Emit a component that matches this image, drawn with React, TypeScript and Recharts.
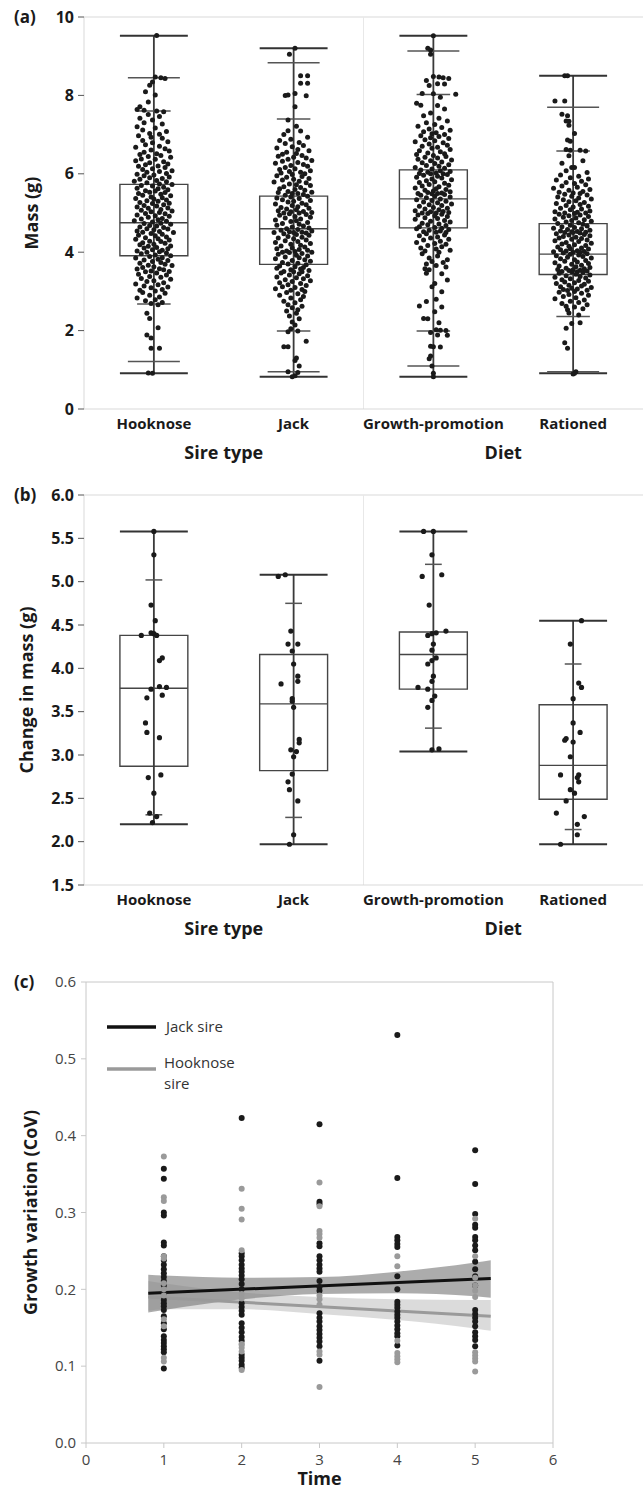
import React from 'react';
import {
  Area,
  ComposedChart,
  Legend,
  Line,
  ReferenceArea,
  ReferenceLine,
  Scatter,
  XAxis,
  YAxis,
} from 'recharts';

const FONT = "'Open Sans', sans-serif";
const INK = '#1a1a1a';
const FRAME = '#d9d9d9';

const CATEGORIES = ['Hooknose', 'Jack', 'Growth-promotion', 'Rationed'];
const GROUPS = ['Sire type', 'Diet'];
const CATEGORY_TICKS = [0.5, 1.5, 2.5, 3.5];
const MASS_TICKS = [0, 2, 4, 6, 8, 10];
const CHANGE_TICKS = [1.5, 2, 2.5, 3, 3.5, 4, 4.5, 5, 5.5, 6];
const COV_TICKS = [0, 0.1, 0.2, 0.3, 0.4, 0.5, 0.6];
const TIME_TICKS = [0, 1, 2, 3, 4, 5, 6];

// (a) mass box stats, one value per category
const MASS_MIN = [0.91, 0.82, 0.82, 0.91];
const MASS_P2 = [1.21, 0.95, 1.1, 0.95];
const MASS_P10 = [2.68, 1.99, 1.99, 2.36];
const MASS_Q1 = [3.91, 3.69, 4.62, 3.43];
const MASS_MEDIAN = [4.75, 4.6, 5.36, 3.95];
const MASS_Q3 = [5.73, 5.43, 6.1, 4.73];
const MASS_P90 = [7.6, 7.4, 8.02, 6.58];
const MASS_P98 = [8.45, 8.83, 9.13, 7.7];
const MASS_MAX = [9.52, 9.2, 9.52, 8.5];

// (b) change in mass box stats
const CHANGE_MIN = [2.2, 1.97, 3.04, 1.97];
const CHANGE_P5 = [2.31, 2.28, 3.31, 2.14];
const CHANGE_Q1 = [2.87, 2.82, 3.76, 2.49];
const CHANGE_MEDIAN = [3.77, 3.59, 4.16, 2.88];
const CHANGE_Q3 = [4.38, 4.16, 4.42, 3.58];
const CHANGE_P95 = [5.02, 4.75, 5.2, 4.05];
const CHANGE_MAX = [5.58, 5.08, 5.58, 4.55];

// points: [mass, horizontal jitter in hundredths of a category]
const HOOKNOSE_MASS = [
  [9.53, 2], [8.47, 1], [8.45, 5], [8.43, 8], [8.34, -1], [8.26, -3], [8.09, -6], [8.01, 1], [7.83, -4], [7.71, -10],
  [7.64, -12], [7.62, -7], [7.6, 2], [7.58, 7], [7.51, -4], [7.46, 4], [7.42, -10], [7.37, -1], [7.3, -7], [7.27, 6],
  [7.2, -12], [7.17, 1], [7.12, -8], [7.08, 9], [7.03, -3], [7.01, 4], [6.97, -11], [6.93, -2], [6.91, 6], [6.85, -8],
  [6.82, 10], [6.79, -1], [6.74, -6], [6.7, 4], [6.68, -13], [6.64, 8], [6.61, -2], [6.58, 11], [6.55, -7], [6.51, 2],
  [6.49, -10], [6.47, 5], [6.44, -4], [6.42, 12], [6.38, -9], [6.37, 1], [6.33, -13], [6.31, 7], [6.28, -3], [6.25, 10],
  [6.23, -6], [6.2, 3], [6.19, -11], [6.16, 8], [6.13, -1], [6.11, -8], [6.08, 13], [6.06, 4], [6.04, -5], [6.01, 9],
  [5.99, -12], [5.97, 0], [5.95, -7], [5.92, 11], [5.9, -3], [5.88, 6], [5.86, -10], [5.83, 2], [5.81, -14], [5.8, 9],
  [5.77, -5], [5.74, 4], [5.73, 13], [5.7, -9], [5.69, -1], [5.66, 7], [5.63, -12], [5.62, 3], [5.59, 10], [5.57, -6],
  [5.56, 1], [5.53, -3], [5.52, 8], [5.5, -11], [5.48, 5], [5.45, -8], [5.44, 12], [5.41, -2], [5.39, 6], [5.37, -13],
  [5.36, 0], [5.33, 9], [5.31, -5], [5.3, 3], [5.27, -10], [5.25, 11], [5.24, -1], [5.21, 7], [5.19, -7], [5.18, 2],
  [5.15, -12], [5.13, 10], [5.12, -4], [5.09, 5], [5.07, -9], [5.05, 13], [5.03, -2], [5.01, 4], [4.99, -6], [4.98, 8],
  [4.95, -12], [4.93, 1], [4.92, 11], [4.89, -4], [4.86, 6], [4.85, -9], [4.83, 3], [4.8, -14], [4.79, 9], [4.77, -1],
  [4.74, 5], [4.73, -7], [4.71, 12], [4.68, -3], [4.67, 2], [4.64, -10], [4.63, 7], [4.6, -5], [4.59, 10], [4.57, 0],
  [4.54, -12], [4.53, 4], [4.51, -8], [4.5, 14], [4.48, -2], [4.46, 6], [4.43, -11], [4.42, 1], [4.39, 9], [4.37, -6],
  [4.34, 3], [4.33, -13], [4.31, 11], [4.28, -3], [4.27, 5], [4.24, -8], [4.23, 8], [4.2, 0], [4.19, -10], [4.16, 12],
  [4.15, -4], [4.12, 2], [4.11, -7], [4.09, 10], [4.06, -1], [4.05, 6], [4.03, -12], [4.01, 4], [4.0, -5], [3.98, 9],
  [3.96, -9], [3.93, 1], [3.91, 12], [3.89, -3], [3.86, 6], [3.85, -13], [3.82, 3], [3.8, -7], [3.79, 10], [3.76, -1],
  [3.74, 5], [3.72, -10], [3.69, 8], [3.67, -4], [3.66, 13], [3.63, 0], [3.61, -8], [3.58, 4], [3.57, -12], [3.55, 7],
  [3.52, -2], [3.51, 11], [3.5, -6], [3.47, 2], [3.44, -11], [3.42, 9], [3.38, -3], [3.36, 5], [3.33, -9], [3.31, 12],
  [3.27, 0], [3.25, -5], [3.22, 7], [3.19, -13], [3.17, 3], [3.14, -7], [3.11, 10], [3.09, -2], [3.05, 6], [3.03, -10],
  [3.01, 1], [2.97, -8], [2.95, 8], [2.9, -3], [2.86, 4], [2.83, -12], [2.79, 1], [2.76, -6], [2.72, 6], [2.69, -2],
  [2.66, 3], [2.44, -5], [2.31, -3], [2.07, 3], [1.89, -5], [1.81, -2], [1.55, -2], [1.55, 4], [0.92, -4], [0.91, -1],
];

const JACK_MASS = [
  [9.2, 1], [9.05, -3], [8.5, 5], [8.5, 10], [8.31, 5], [8.31, 10], [8.05, 1], [8.01, -4], [8.0, -6], [7.99, 9],
  [7.71, 1], [7.37, -4], [7.21, 2], [7.1, -4], [7.09, 5], [7.0, -7], [6.93, 10], [6.88, -2], [6.85, -10], [6.8, 4],
  [6.77, -6], [6.72, 7], [6.69, -1], [6.66, -12], [6.62, 3], [6.59, 11], [6.55, -5], [6.52, 2], [6.5, -8], [6.47, 6],
  [6.45, -11], [6.42, 0], [6.4, 9], [6.37, -4], [6.34, 13], [6.32, -8], [6.29, 3], [6.27, -13], [6.24, 7], [6.21, -2],
  [6.19, 10], [6.16, -6], [6.13, 1], [6.11, -10], [6.08, 12], [6.06, -3], [6.04, 5], [6.02, -9], [6.0, 8], [5.98, -1],
  [5.95, -12], [5.93, 6], [5.91, -5], [5.88, 11], [5.86, 0], [5.84, -8], [5.81, 4], [5.79, -14], [5.77, 9], [5.74, -3],
  [5.72, 2], [5.7, 12], [5.67, -7], [5.65, 5], [5.62, -10], [5.6, 1], [5.58, 8], [5.55, -4], [5.53, 13], [5.52, -11],
  [5.5, 3], [5.5, -1], [5.47, 7], [5.45, -6], [5.43, 10], [5.41, -2], [5.38, -12], [5.37, 4], [5.34, -8], [5.32, 12],
  [5.3, 0], [5.28, -4], [5.25, 6], [5.23, -13], [5.21, 9], [5.19, -1], [5.16, 3], [5.14, -9], [5.12, 11], [5.1, -5],
  [5.08, 2], [5.06, -11], [5.04, 7], [5.03, -2], [5.01, 13], [5.0, -7], [5.0, 4], [4.98, -3], [4.96, 9], [4.94, -10],
  [4.91, 1], [4.89, 12], [4.87, -6], [4.85, 5], [4.82, -13], [4.8, 2], [4.78, -2], [4.76, 10], [4.73, -8], [4.71, 4],
  [4.69, -12], [4.67, 7], [4.64, -1], [4.62, 11], [4.6, -5], [4.58, 3], [4.56, -9], [4.54, 13], [4.52, -3], [4.51, 6],
  [4.5, -14], [4.5, 0], [4.49, 9], [4.47, -7], [4.45, 2], [4.43, 11], [4.4, -4], [4.38, 6], [4.36, -11], [4.34, 0],
  [4.31, 9], [4.29, -6], [4.27, 3], [4.25, -13], [4.22, 12], [4.2, -2], [4.18, 5], [4.16, -9], [4.13, 8], [4.11, -1],
  [4.09, -12], [4.07, 4], [4.05, 10], [4.03, -5], [4.02, 1], [4.0, -8], [4.0, 13], [3.99, -3], [3.97, 6], [3.95, -11],
  [3.92, 2], [3.9, 10], [3.88, -6], [3.86, 4], [3.83, -13], [3.81, 8], [3.79, -1], [3.77, 12], [3.74, -8], [3.72, 3],
  [3.7, -4], [3.68, 9], [3.65, -10], [3.63, 1], [3.61, 7], [3.59, -12], [3.57, 5], [3.55, -2], [3.53, 11], [3.51, -7],
  [3.5, 0], [3.5, 6], [3.47, -9], [3.45, 4], [3.42, -3], [3.4, 10], [3.37, -12], [3.35, 2], [3.32, 7], [3.3, -6],
  [3.27, 12], [3.25, -1], [3.22, -10], [3.2, 5], [3.17, -4], [3.15, 9], [3.12, -8], [3.1, 1], [3.07, -13], [3.05, 6],
  [3.03, -2], [3.0, 8], [2.97, -5], [2.94, 3], [2.9, -10], [2.87, 7], [2.83, -2], [2.79, 5], [2.75, -7], [2.71, 1],
  [2.66, -4], [2.62, 6], [2.58, -1], [2.53, 3], [2.5, -5], [2.44, 2], [2.37, -3], [2.3, 4], [2.22, -1], [2.14, 1],
  [2.05, -2], [1.99, 3], [1.97, -4], [1.73, 9], [1.59, -7], [1.59, -4], [1.3, 2], [1.24, 1], [1.1, 4], [0.95, -4],
  [0.93, 3], [0.85, 1], [0.82, -1],
];

const GROWTH_MASS = [
  [9.52, 0], [9.2, -4], [9.16, -2], [9.05, -2], [8.48, 0], [8.47, 4], [8.45, 7], [8.43, 11], [8.38, -5], [8.3, 3],
  [8.29, 8], [8.25, -3], [8.05, -8], [8.04, 0], [8.03, 16], [7.95, 5], [7.8, -12], [7.75, -9], [7.74, 3], [7.65, 8],
  [7.55, -2], [7.48, -7], [7.42, 4], [7.35, 10], [7.3, -5], [7.26, 1], [7.21, -11], [7.18, 6], [7.14, -3], [7.11, 12],
  [7.07, -7], [7.05, 2], [7.02, -1], [7.0, 8], [6.97, -9], [6.95, 4], [6.92, -2], [6.9, 11], [6.87, -6], [6.84, 1],
  [6.82, -13], [6.79, 7], [6.76, -3], [6.73, 10], [6.7, -8], [6.68, 3], [6.65, -1], [6.62, 12], [6.59, -10], [6.56, 5],
  [6.53, -4], [6.51, 8], [6.49, -12], [6.47, 0], [6.44, 9], [6.42, -6], [6.4, 3], [6.37, -11], [6.35, 13], [6.33, -2],
  [6.3, 6], [6.28, -8], [6.26, 1], [6.23, 11], [6.21, -5], [6.19, 4], [6.16, -13], [6.14, 8], [6.12, -1], [6.1, -9],
  [6.08, 5], [6.06, 12], [6.04, -4], [6.02, 2], [6.01, -10], [6.0, 7], [6.0, -2], [5.98, 10], [5.96, -7], [5.94, 3],
  [5.91, -12], [5.89, 6], [5.87, -1], [5.85, 13], [5.82, -5], [5.8, 1], [5.78, -10], [5.76, 8], [5.73, -3], [5.71, 11],
  [5.69, -8], [5.67, 4], [5.64, -13], [5.62, 2], [5.6, 9], [5.58, -6], [5.56, 0], [5.54, 12], [5.52, -4], [5.51, 6],
  [5.5, -11], [5.5, 3], [5.49, -1], [5.47, 8], [5.45, -9], [5.43, 1], [5.41, 12], [5.39, -5], [5.36, 5], [5.34, -12],
  [5.32, -1], [5.3, 9], [5.28, -7], [5.26, 3], [5.23, 13], [5.21, -3], [5.19, 6], [5.17, -10], [5.14, 0], [5.12, 10],
  [5.1, -6], [5.08, 4], [5.06, -13], [5.04, 7], [5.03, -2], [5.01, 11], [5.0, -8], [5.0, 2], [4.99, -4], [4.97, 6],
  [4.95, -11], [4.93, 1], [4.91, 10], [4.88, -6], [4.86, 3], [4.84, -13], [4.81, 8], [4.79, -2], [4.77, 12], [4.74, -8],
  [4.72, 4], [4.7, -4], [4.68, 9], [4.65, -10], [4.63, 1], [4.61, 6], [4.6, -12], [4.58, 11], [4.56, -3], [4.54, 5],
  [4.52, -7], [4.51, 2], [4.5, 9], [4.47, -5], [4.44, 8], [4.42, -10], [4.39, 3], [4.36, -2], [4.33, 11], [4.31, -7],
  [4.28, 5], [4.25, -12], [4.22, 1], [4.2, 9], [4.17, -4], [4.14, 6], [4.11, -9], [4.08, 2], [4.05, 12], [4.03, -6],
  [4.0, 4], [3.96, -8], [3.9, 3], [3.85, -3], [3.81, 10], [3.76, -1], [3.74, 7], [3.7, -5], [3.66, 2], [3.62, 9],
  [3.58, -6], [3.55, -3], [3.46, -5], [3.45, 6], [3.29, 10], [3.2, 1], [3.12, -1], [2.99, 6], [2.8, 2], [2.74, -5],
  [2.63, -10], [2.6, 6], [2.48, 1], [2.31, -7], [2.3, -4], [2.2, 4], [2.02, 2], [2.01, 5], [2.0, 9], [1.95, -2],
  [1.89, 3], [1.88, 10], [1.6, -2], [1.59, 0], [1.58, 5], [1.35, -2], [1.28, -3], [1.1, -1], [0.91, 0], [0.82, 0],
];

const RATIONED_MASS = [
  [8.5, -6], [8.5, -4], [7.86, -13], [7.86, -6], [7.52, -8], [7.48, -4], [7.35, -5], [7.34, -3], [7.24, -3], [7.03, 1],
  [6.86, -4], [6.83, -2], [6.62, -5], [6.6, -2], [6.6, 5], [6.58, 9], [6.46, -3], [6.33, 7], [6.27, -8], [6.16, -1],
  [6.16, 1], [6.08, -5], [6.03, 10], [5.97, -9], [5.94, 4], [5.9, -2], [5.87, 11], [5.84, -12], [5.81, 6], [5.78, -5],
  [5.75, 1], [5.72, 9], [5.69, -8], [5.66, 3], [5.63, -14], [5.6, 12], [5.58, -3], [5.55, 7], [5.53, -10], [5.51, 0],
  [5.5, 5], [5.48, -6], [5.46, 10], [5.43, -1], [5.41, -11], [5.38, 4], [5.36, 13], [5.34, -7], [5.31, 2], [5.29, -3],
  [5.27, 8], [5.24, -12], [5.22, 5], [5.19, -5], [5.17, 11], [5.15, 0], [5.12, -9], [5.1, 6], [5.08, -2], [5.05, 12],
  [5.03, -13], [5.02, 3], [5.0, -6], [5.0, 9], [4.99, 1], [4.97, -10], [4.95, 5], [4.93, -3], [4.91, 11], [4.89, -7],
  [4.87, 2], [4.85, -13], [4.83, 8], [4.81, -1], [4.79, 13], [4.77, -5], [4.75, 4], [4.73, -11], [4.71, 7], [4.69, -2],
  [4.67, 10], [4.65, -8], [4.63, 1], [4.61, -14], [4.6, 6], [4.58, -4], [4.56, 12], [4.54, -9], [4.53, 3], [4.52, -1],
  [4.51, 9], [4.5, -6], [4.5, 0], [4.49, 5], [4.47, -12], [4.45, 8], [4.44, -3], [4.42, 12], [4.4, -7], [4.38, 2],
  [4.36, -10], [4.35, 6], [4.33, -1], [4.31, 10], [4.29, -13], [4.27, 4], [4.25, -5], [4.23, 13], [4.21, -8], [4.19, 1],
  [4.17, 9], [4.15, -3], [4.13, -11], [4.11, 6], [4.09, -2], [4.08, 11], [4.06, -9], [4.04, 3], [4.03, -5], [4.02, 8],
  [4.01, -14], [4.0, 0], [4.0, 5], [3.98, -7], [3.96, 10], [3.95, -2], [3.93, 4], [3.91, -12], [3.89, 7], [3.87, -4],
  [3.85, 13], [3.83, -9], [3.81, 1], [3.79, 9], [3.77, -6], [3.75, 3], [3.73, -13], [3.71, 11], [3.69, -1], [3.67, 6],
  [3.65, -10], [3.63, 2], [3.61, 12], [3.59, -5], [3.58, 8], [3.56, -11], [3.55, 0], [3.54, 5], [3.53, -3], [3.52, 10],
  [3.51, -8], [3.5, 3], [3.5, -1], [3.48, 7], [3.46, -10], [3.44, 2], [3.42, 12], [3.4, -5], [3.38, 5], [3.36, -13],
  [3.34, 9], [3.32, -2], [3.3, -8], [3.28, 4], [3.26, 11], [3.24, -6], [3.22, 1], [3.2, -12], [3.18, 8], [3.16, -3],
  [3.14, 6], [3.12, -9], [3.1, 13], [3.08, -1], [3.06, 3], [3.05, -7], [3.03, 10], [3.02, -4], [3.0, 1], [2.98, -10],
  [2.95, 6], [2.92, -3], [2.9, 11], [2.87, -7], [2.84, 2], [2.81, -13], [2.78, 8], [2.75, -2], [2.72, 4], [2.69, -8],
  [2.66, 10], [2.62, -5], [2.6, 1], [2.56, 7], [2.53, -4], [2.45, -3], [2.4, 4], [2.2, 5], [2.18, -1], [2.06, -5],
  [1.69, -6], [1.55, -4], [0.95, 2], [0.91, 1], [0.89, 0],
];

// (b) points: [change in mass, jitter in hundredths of a category]
const HOOKNOSE_CHANGE = [
  [5.58, 0], [5.31, 0], [4.73, -2], [4.55, 1], [4.38, -9], [4.41, -2], [4.4, 0], [4.38, 2], [4.12, 6], [4.09, 4],
  [3.76, -2], [3.79, 4], [3.78, 9], [3.66, -5], [3.69, 6], [3.37, -6], [3.26, -5], [3.2, 4], [2.74, -4], [2.77, 5],
  [2.56, 0], [2.33, -3], [2.29, 2], [2.22, -1],
];
const JACK_CHANGE = [
  [5.06, -11], [5.08, -6], [4.43, -2], [4.28, -4], [4.28, 3], [4.2, -1], [4.05, 0], [3.82, -9], [3.91, 3], [3.85, 3],
  [3.65, -1], [3.62, -1], [3.55, 0], [3.18, 4], [3.14, 4], [3.06, -2], [3.04, 2], [2.98, 0], [2.78, -1], [2.69, -4],
  [2.6, -3], [2.47, 3], [2.08, 0], [1.97, -3],
];
const GROWTH_CHANGE = [
  [5.58, -7], [5.58, 0], [5.31, -1], [5.06, -8], [5.08, 6], [4.73, -3], [4.38, -4], [4.4, -1], [4.41, 2], [4.43, 9],
  [4.28, 0], [4.21, -1], [4.12, 2], [4.09, -1], [4.05, -4], [3.91, 0], [3.85, -1], [3.78, -11], [3.76, -4], [3.68, 1],
  [3.63, -1], [3.55, -4], [3.06, -1], [3.07, 4],
];
const RATIONED_CHANGE = [
  [4.55, 6], [4.28, -2], [3.83, 4], [3.78, 6], [3.65, 0], [3.37, 0], [3.19, -5], [3.17, -6], [3.26, 5], [3.15, 0],
  [2.98, -2], [2.77, -9], [2.77, 4], [2.74, 3], [2.69, 4], [2.6, -2], [2.56, 1], [2.47, -5], [2.33, -12], [2.29, 8],
  [2.2, 3], [2.08, 3], [1.97, -9],
];

// (c) points: [time, CoV]
const JACK_COV = [
  [1, 0.357], [1, 0.344], [1, 0.3], [1, 0.296], [1, 0.261], [1, 0.257], [1, 0.243], [1, 0.238], [1, 0.232], [1, 0.226],
  [1, 0.221], [1, 0.216], [1, 0.211], [1, 0.205], [1, 0.195], [1, 0.186], [1, 0.182], [1, 0.178], [1, 0.173], [1, 0.165],
  [1, 0.156], [1, 0.148], [1, 0.139], [1, 0.134], [1, 0.13], [1, 0.126], [1, 0.122], [1, 0.118], [1, 0.097],
  [2, 0.423], [2, 0.247], [2, 0.243], [2, 0.238], [2, 0.232], [2, 0.227], [2, 0.223], [2, 0.218], [2, 0.213], [2, 0.207],
  [2, 0.2], [2, 0.182], [2, 0.177], [2, 0.172], [2, 0.167], [2, 0.156], [2, 0.15], [2, 0.144], [2, 0.138], [2, 0.133],
  [2, 0.115], [2, 0.111], [2, 0.107], [2, 0.102], [2, 0.098],
  [3, 0.415], [3, 0.314], [3, 0.311], [3, 0.26], [3, 0.256], [3, 0.243], [3, 0.238], [3, 0.232], [3, 0.227], [3, 0.223],
  [3, 0.211], [3, 0.203], [3, 0.198], [3, 0.169], [3, 0.163], [3, 0.158], [3, 0.152], [3, 0.147], [3, 0.142], [3, 0.137],
  [3, 0.132], [3, 0.126], [3, 0.107],
  [4, 0.531], [4, 0.345], [4, 0.268], [4, 0.264], [4, 0.259], [4, 0.255], [4, 0.217], [4, 0.2], [4, 0.184], [4, 0.18],
  [4, 0.176], [4, 0.171], [4, 0.167], [4, 0.163], [4, 0.158], [4, 0.153], [4, 0.148], [4, 0.143], [4, 0.139], [4, 0.127],
  [5, 0.381], [5, 0.337], [5, 0.298], [5, 0.284], [5, 0.28], [5, 0.268], [5, 0.264], [5, 0.257], [5, 0.251], [5, 0.236],
  [5, 0.226], [5, 0.217], [5, 0.205], [5, 0.173], [5, 0.168], [5, 0.163], [5, 0.158], [5, 0.152], [5, 0.144], [5, 0.139],
  [5, 0.134], [5, 0.126],
];
const HOOKNOSE_COV = [
  [1, 0.373], [1, 0.32], [1, 0.315], [1, 0.243], [1, 0.24], [1, 0.208], [1, 0.2], [1, 0.192], [1, 0.161], [1, 0.152],
  [1, 0.111], [1, 0.106],
  [2, 0.331], [2, 0.305], [2, 0.291], [2, 0.251], [2, 0.194], [2, 0.188], [2, 0.129], [2, 0.128], [2, 0.124], [2, 0.119],
  [2, 0.095],
  [3, 0.339], [3, 0.308], [3, 0.276], [3, 0.272], [3, 0.267], [3, 0.192], [3, 0.187], [3, 0.18], [3, 0.119], [3, 0.115],
  [3, 0.073],
  [4, 0.243], [4, 0.23], [4, 0.133], [4, 0.117], [4, 0.113], [4, 0.109], [4, 0.105],
  [5, 0.292], [5, 0.243], [5, 0.215], [5, 0.205], [5, 0.198], [5, 0.19], [5, 0.118], [5, 0.114], [5, 0.11], [5, 0.106],
  [5, 0.093],
];

// (c) fitted lines and confidence bands
const FIT_X = [0.8, 5.2];
const JACK_FIT = [0.195, 0.214];
const HOOKNOSE_FIT = [0.19, 0.165];
const BAND_X = [0.8, 1, 2, 3, 4, 5, 5.2];
const JACK_LO = [0.17, 0.173, 0.187, 0.194, 0.195, 0.191, 0.189];
const JACK_HI = [0.219, 0.218, 0.215, 0.216, 0.223, 0.235, 0.238];
const HOOKNOSE_LO = [0.172, 0.174, 0.174, 0.168, 0.16, 0.149, 0.146];
const HOOKNOSE_HI = [0.211, 0.208, 0.196, 0.19, 0.187, 0.186, 0.186];

const BOX_HALF = 0.243;

const dot = (r: number, fill: string) => (p: any) => <circle cx={p.cx} cy={p.cy} r={r} fill={fill} />;

const jittered = (pts: number[][], i: number) => pts.map(([y, j]) => ({ x: i + 0.5 + j / 100, y }));

function boxMarks(
  id: string,
  min: number[],
  q1: number[],
  median: number[],
  q3: number[],
  max: number[],
  caps: [number[], number][],
) {
  const marks: React.ReactElement[] = [];
  CATEGORIES.forEach((_, i) => {
    const c = i + 0.5;
    const seg = (key: string, y: number, half: number, w: number, color: string) => (
      <ReferenceLine
        key={`${id}-${key}-${i}`}
        segment={[{ x: c - half, y }, { x: c + half, y }]}
        stroke={color}
        strokeWidth={w}
      />
    );
    marks.push(
      <ReferenceLine
        key={`${id}-w-${i}`}
        segment={[{ x: c, y: min[i] }, { x: c, y: max[i] }]}
        stroke="#3a3a3a"
        strokeWidth={1.8}
      />,
    );
    marks.push(
      <ReferenceArea
        key={`${id}-b-${i}`}
        x1={c - BOX_HALF}
        x2={c + BOX_HALF}
        y1={q1[i]}
        y2={q3[i]}
        fill="none"
        fillOpacity={0}
        stroke="#454545"
        strokeWidth={1.4}
      />,
    );
    marks.push(seg('m', median[i], BOX_HALF, 1.4, '#454545'));
    marks.push(seg('lo', min[i], BOX_HALF, 2, '#333'));
    marks.push(seg('hi', max[i], BOX_HALF, 2, '#333'));
    caps.forEach(([vals, half], k) => marks.push(seg(`c${k}`, vals[i], half, 1.5, '#555')));
  });
  return marks;
}

const panelTitle = (letter: string, title: string, titleX: number) => (props: any) => {
  const vb = props.viewBox ?? { x: 0, y: 0, width: 0, height: 0 };
  const cy = vb.y + vb.height / 2;
  return (
    <g>
      <text x={14} y={vb.y} dy="0.35em" fontSize={17} fontWeight={700} fill={INK} fontFamily={FONT}>
        {letter}
      </text>
      <text
        x={titleX}
        y={cy}
        dy="0.35em"
        transform={`rotate(-90 ${titleX} ${cy})`}
        textAnchor="middle"
        fontSize={18}
        fontWeight={700}
        fill={INK}
        fontFamily={FONT}
      >
        {title}
      </text>
    </g>
  );
};

// group titles under the category ticks, centred on each half of the axis
const groupTitles = (props: any) => {
  const vb = props.viewBox ?? { x: 0, y: 0, width: 0, height: 0 };
  return (
    <g>
      {GROUPS.map((g, i) => (
        <text
          key={g}
          x={vb.x + (vb.width * (2 * i + 1)) / 4}
          y={vb.y + 50}
          textAnchor="middle"
          fontSize={18}
          fontWeight={700}
          fill={INK}
          fontFamily={FONT}
        >
          {g}
        </text>
      ))}
    </g>
  );
};

const boldTick = { fontSize: 15, fontWeight: 700, fill: INK, fontFamily: FONT };
const yTick = { fontSize: 16, fontWeight: 700, fill: INK, fontFamily: FONT };

function BoxPanel(props: {
  top: number;
  marginTop: number;
  marginBottom: number;
  letter: string;
  title: string;
  titleX: number;
  domain: [number, number];
  ticks: number[];
  format: (v: number) => string;
  series: number[][][];
  marks: React.ReactElement[];
  r: number;
}) {
  const { top, marginTop, marginBottom, letter, title, titleX, domain, ticks, format, series, marks, r } = props;
  return (
    <div style={{ position: 'absolute', left: 0, top }}>
      <ComposedChart width={643} height={480} margin={{ top: marginTop, right: 0, bottom: marginBottom, left: 0 }}>
        <XAxis
          type="number"
          dataKey="x"
          domain={[0, 4]}
          ticks={CATEGORY_TICKS}
          interval={0}
          tickFormatter={(v: number) => CATEGORIES[Math.floor(v)]}
          axisLine={{ stroke: FRAME }}
          tickLine={false}
          tickSize={0}
          tickMargin={9}
          height={60}
          tick={boldTick}
          label={groupTitles}
        />
        <YAxis
          type="number"
          domain={domain}
          ticks={ticks}
          interval={0}
          tickFormatter={format}
          width={84}
          axisLine={{ stroke: FRAME }}
          tickLine={{ stroke: '#555' }}
          tickSize={6}
          tickMargin={4}
          tick={yTick}
          label={panelTitle(letter, title, titleX)}
        />
        <ReferenceLine y={domain[1]} stroke={FRAME} />
        <ReferenceLine x={2} stroke="#e8e8e8" />
        {marks}
        {series.map((pts, i) => (
          <Scatter
            key={`s${i}`}
            data={jittered(pts, i)}
            dataKey="y"
            fill={INK}
            shape={dot(r, INK)}
            isAnimationActive={false}
          />
        ))}
      </ComposedChart>
    </div>
  );
}

const bandRows = BAND_X.map((x, i) => ({
  x,
  jack: [JACK_LO[i], JACK_HI[i]],
  hook: [HOOKNOSE_LO[i], HOOKNOSE_HI[i]],
}));
const jackFitRows = FIT_X.map((x, i) => ({ x, y: JACK_FIT[i] }));
const hookFitRows = FIT_X.map((x, i) => ({ x, y: HOOKNOSE_FIT[i] }));
const jackCovRows = JACK_COV.map(([x, y]) => ({ x, y }));
const hookCovRows = HOOKNOSE_COV.map(([x, y]) => ({ x, y }));

const covLegend = () => (
  <svg width={180} height={90} style={{ display: 'block' }}>
    <line x1={7} x2={56} y1={17} y2={17} stroke="#111" strokeWidth={3.5} />
    <text x={66} y={17} dy="0.35em" fontSize={15} fill="#333" fontFamily={FONT}>
      Jack sire
    </text>
    <line x1={7} x2={56} y1={59} y2={59} stroke="#9a9a9a" strokeWidth={3.5} />
    <text x={64} y={53} dy="0.35em" fontSize={15} fill="#333" fontFamily={FONT}>
      Hooknose
    </text>
    <text x={64} y={74} dy="0.35em" fontSize={15} fill="#333" fontFamily={FONT}>
      sire
    </text>
  </svg>
);

export default function App() {
  const massMarks = boxMarks('a', MASS_MIN, MASS_Q1, MASS_MEDIAN, MASS_Q3, MASS_MAX, [
    [MASS_P2, 0.186],
    [MASS_P10, 0.12],
    [MASS_P90, 0.12],
    [MASS_P98, 0.186],
  ]);
  const changeMarks = boxMarks('b', CHANGE_MIN, CHANGE_Q1, CHANGE_MEDIAN, CHANGE_Q3, CHANGE_MAX, [
    [CHANGE_P5, 0.06],
    [CHANGE_P95, 0.06],
  ]);

  return (
    <div
      style={{
        position: 'absolute',
        left: 0,
        top: 0,
        width: 643,
        height: 1490,
        background: '#fff',
        fontFamily: FONT,
        overflow: 'hidden',
      }}
    >
      <BoxPanel
        top={0}
        marginTop={17}
        marginBottom={11}
        letter="(a)"
        title="Mass (g)"
        titleX={32}
        domain={[0, 10]}
        ticks={MASS_TICKS}
        format={(v) => String(v)}
        series={[HOOKNOSE_MASS, JACK_MASS, GROWTH_MASS, RATIONED_MASS]}
        marks={massMarks}
        r={2.5}
      />
      <BoxPanel
        top={480}
        marginTop={15}
        marginBottom={15}
        letter="(b)"
        title="Change in mass (g)"
        titleX={27}
        domain={[1.5, 6]}
        ticks={CHANGE_TICKS}
        format={(v) => v.toFixed(1)}
        series={[HOOKNOSE_CHANGE, JACK_CHANGE, GROWTH_CHANGE, RATIONED_CHANGE]}
        marks={changeMarks}
        r={2.6}
      />

      <div style={{ position: 'absolute', left: 0, top: 960 }}>
        <ComposedChart width={643} height={530} data={bandRows} margin={{ top: 22, right: 90, bottom: 0, left: 0 }}>
          <XAxis
            type="number"
            dataKey="x"
            domain={[0, 6]}
            ticks={TIME_TICKS}
            interval={0}
            axisLine={{ stroke: '#c8c8c8' }}
            tickLine={{ stroke: '#c8c8c8' }}
            tickSize={5}
            tickMargin={6}
            height={47}
            tick={{ fontSize: 15, fill: '#444', fontFamily: FONT }}
            label={{ value: 'Time', position: 'insideBottom', offset: 5, fontSize: 18, fontWeight: 700, fill: INK, fontFamily: FONT }}
          />
          <YAxis
            type="number"
            domain={[0, 0.6]}
            ticks={COV_TICKS}
            interval={0}
            tickFormatter={(v: number) => v.toFixed(1)}
            width={86}
            axisLine={{ stroke: '#c8c8c8' }}
            tickLine={{ stroke: '#c8c8c8' }}
            tickSize={5}
            tickMargin={5}
            tick={{ fontSize: 15, fill: '#444', fontFamily: FONT }}
            label={panelTitle('(c)', 'Growth variation (CoV)', 31)}
          />
          <ReferenceLine y={0.6} stroke="#c8c8c8" />
          <ReferenceLine x={6} stroke="#c8c8c8" />
          <Area
            type="monotone"
            dataKey="hook"
            stroke="none"
            fill="#c8c8c8"
            fillOpacity={0.65}
            isAnimationActive={false}
          />
          <Area
            type="monotone"
            dataKey="jack"
            stroke="none"
            fill="#7f7f7f"
            fillOpacity={0.65}
            isAnimationActive={false}
          />
          <Scatter data={jackCovRows} dataKey="y" fill={INK} shape={dot(3, INK)} isAnimationActive={false} />
          <Scatter data={hookCovRows} dataKey="y" fill="#9a9a9a" shape={dot(3, '#9a9a9a')} isAnimationActive={false} />
          <Line
            data={hookFitRows}
            dataKey="y"
            stroke="#9a9a9a"
            strokeWidth={3}
            dot={false}
            isAnimationActive={false}
          />
          <Line
            data={jackFitRows}
            dataKey="y"
            stroke="#111"
            strokeWidth={3}
            dot={false}
            isAnimationActive={false}
          />
          <Legend
            layout="horizontal"
            verticalAlign="middle"
            align="center"
            content={covLegend}
            wrapperStyle={{ left: 100, top: 50, width: 180, height: 90 }}
          />
        </ComposedChart>
      </div>
    </div>
  );
}
